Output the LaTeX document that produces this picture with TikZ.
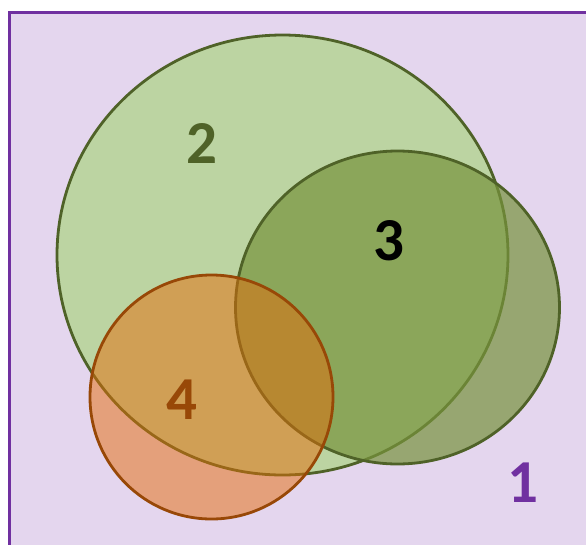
\documentclass[tikz,border=0pt]{standalone}
\usepackage{fontspec}
\setmainfont{Carlito}
\definecolor{setpurple}{RGB}{112,48,160}
\definecolor{setpurplebg}{RGB}{228,214,238}
\definecolor{setgreen}{RGB}{79,98,40}
\definecolor{setgreenlight}{RGB}{188,212,162}
\definecolor{setgreendark}{RGB}{119,147,60}
\definecolor{setorange}{RGB}{228,108,10}
\definecolor{setbrown}{RGB}{152,72,7}

\begin{document}
\begin{tikzpicture}[x=1pt,y=-1pt]

%
% Styles
%
\tikzstyle{universe} = [draw=setpurple,fill=setpurplebg,line width=3pt]
\tikzstyle{setA}     = [draw=setgreen,fill=setgreenlight,line width=2.8pt]
\tikzstyle{setB}     = [draw=setgreen,fill=setgreendark,fill opacity=0.7,line width=2.8pt]
\tikzstyle{setC}     = [draw=setbrown,fill=setorange,fill opacity=0.5,line width=2.8pt]
\tikzstyle{setlabel} = [inner sep=0pt,font=\fontsize{61}{61}\selectfont\bfseries]

\clip (0,0) rectangle (586,544);
\fill[white] (0,0) rectangle (586,544);

\draw[universe] (9,12) rectangle (620,580);
\draw[setA] (282.5,255) ellipse [x radius=225.5,y radius=220];
\draw[setB] (397.5,307.5) ellipse [x radius=162,y radius=156.5];
\draw[setC] (211.5,397) ellipse [x radius=121.5,y radius=122];

\node[setlabel,text=setpurple] (one)   at (523,483)   {1};
\node[setlabel,text=setgreen]  (two)   at (202,143)   {2};
\node[setlabel,text=black]     (three) at (388.5,241) {3};
\node[setlabel,text=setbrown]  (four)  at (181.5,399.5) {4};

\end{tikzpicture}
\end{document}
